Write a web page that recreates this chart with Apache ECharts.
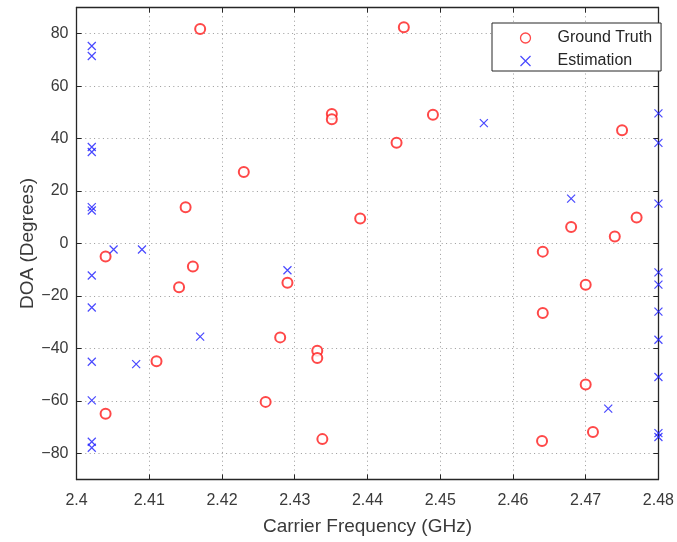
<!DOCTYPE html>
<html>
<head>
<meta charset="utf-8">
<script src="https://cdn.jsdelivr.net/npm/echarts@6/dist/echarts.min.js"></script>
<style>
html,body{margin:0;padding:0;background:#fff;}
#c{width:677px;height:542px;}
</style>
</head>
<body>
<div id="c"></div>
<script>
// Ground truth (red circles)
var gtFreq = [2.4170, 2.4450, 2.4351, 2.4351, 2.4490, 2.4440, 2.4230, 2.4750, 2.4150, 2.4390,
              2.4770, 2.4680, 2.4740, 2.4641, 2.4040, 2.4160, 2.4141, 2.4290, 2.4700, 2.4641,
              2.4280, 2.4331, 2.4331, 2.4110, 2.4700, 2.4260, 2.4040, 2.4710, 2.4338, 2.4640];
var gtDoa  = [81.8, 82.5, 49.4, 47.4, 49.1, 38.4, 27.3, 43.2, 13.8, 9.5,
              9.9, 6.3, 2.7, -3.1, -5.0, -8.8, -16.7, -15.0, -15.7, -26.5,
              -35.8, -40.9, -43.7, -44.9, -53.8, -60.4, -64.9, -71.9, -74.6, -75.3];
// Estimation (blue crosses)
var estFreq = [2.4021, 2.4021, 2.4021, 2.4021, 2.4021, 2.4021, 2.4021, 2.4021, 2.4021, 2.4021,
               2.4021, 2.4021, 2.4051, 2.4090, 2.4082, 2.4170, 2.4290, 2.4560, 2.4680, 2.4731,
               2.4800, 2.4800, 2.4800, 2.4800, 2.4800, 2.4800, 2.4800, 2.4800, 2.4800, 2.4800];
var estDoa  = [75.3, 71.5, 36.8, 34.9, 13.9, 12.6, -12.2, -24.4, -45.1, -59.8,
               -75.6, -77.9, -2.3, -2.3, -46.0, -35.5, -10.2, 45.9, 17.1, -63.0,
               49.6, 38.4, 15.2, -11.0, -15.7, -26.0, -36.7, -50.9, -72.3, -73.8];
// Ticks
var xTicks = [2.40, 2.41, 2.42, 2.43, 2.44, 2.45, 2.46, 2.47, 2.48];
var yTicks = [-80, -60, -40, -20, 0, 20, 40, 60, 80];
var seriesNames = ['Ground Truth', 'Estimation'];
var xTitle = 'Carrier Frequency (GHz)';
var yTitle = 'DOA (Degrees)';

function zip(a, b) { return a.map(function (v, i) { return [v, b[i]]; }); }

var FONT = 'Liberation Sans, Arial, Helvetica, sans-serif';
var AX = '#262626';
var LBL = '#3a3a3a';
var RED = '#ff1a1a';
var BLUE = '#1a1aff';
var crossPath = 'path://M0,0L10,10M10,0L0,10';

var gridLine = { show: true, lineStyle: { color: '#9a9a9a', width: 1, type: [1, 3.4] } };
var axLine = { show: true, onZero: false, lineStyle: { color: AX, width: 1.3 } };

var chart = echarts.init(document.getElementById('c'), null, { renderer: 'canvas' });
chart.setOption({
  animation: false,
  backgroundColor: '#ffffff',
  grid: { left: 76.5, top: 7.5, right: 15.5, bottom: 62.5, containLabel: false },
  legend: {
    left: 492, top: 23,
    orient: 'vertical',
    itemWidth: 54, itemHeight: 10, itemGap: 7,
    padding: [7, 9, 2, 26],
    borderColor: AX, borderWidth: 1, backgroundColor: '#ffffff',
    textStyle: { fontFamily: FONT, fontSize: 16, color: '#262626' },
    data: [
      { name: seriesNames[0], icon: 'circle',
        itemStyle: { color: '#ffffff', borderColor: RED, borderWidth: 1.3 } },
      { name: seriesNames[1], icon: crossPath,
        itemStyle: { color: 'none', borderColor: BLUE, borderWidth: 1.2 } }
    ]
  },
  xAxis: [{
    type: 'value', min: xTicks[0], max: xTicks[xTicks.length - 1], interval: 0.01,
    position: 'bottom',
    name: xTitle, nameLocation: 'middle', nameGap: 38, nameMoveOverlap: false,
    nameTextStyle: { fontFamily: FONT, fontSize: 19, color: LBL },
    axisLine: axLine,
    axisTick: { show: true, inside: true, length: 5, lineStyle: { color: AX } },
    axisLabel: { fontFamily: FONT, fontSize: 16, color: LBL, margin: 13,
      formatter: function (v) { return String(+v.toFixed(2)); } },
    splitLine: gridLine
  }, {
    type: 'value', min: xTicks[0], max: xTicks[xTicks.length - 1], interval: 0.01,
    position: 'top',
    axisLine: axLine,
    axisTick: { show: true, inside: true, length: 5, lineStyle: { color: AX } },
    axisLabel: { show: false },
    splitLine: { show: false }
  }],
  yAxis: [{
    type: 'value', min: -90, max: 90,
    position: 'left',
    name: yTitle, nameLocation: 'middle', nameGap: 39, nameMoveOverlap: false,
    nameTextStyle: { fontFamily: FONT, fontSize: 19, color: LBL },
    axisLine: axLine,
    axisTick: { show: true, inside: true, length: 5, lineStyle: { color: AX }, customValues: yTicks },
    axisLabel: { fontFamily: FONT, fontSize: 16, color: LBL, margin: 8, customValues: yTicks,
      formatter: function (v) { return v < 0 ? '\u2212' + (-v) : String(v); } },
    splitLine: gridLine
  }, {
    type: 'value', min: -90, max: 90,
    position: 'right',
    axisLine: axLine,
    axisTick: { show: true, inside: true, length: 5, lineStyle: { color: AX }, customValues: yTicks },
    axisLabel: { show: false },
    splitLine: { show: false }
  }],
  series: [{
    name: seriesNames[0], type: 'scatter', xAxisIndex: 0, yAxisIndex: 0, clip: false,
    symbol: 'emptyCircle', symbolSize: 10,
    itemStyle: { color: RED, borderColor: RED, borderWidth: 1.3 },
    data: zip(gtFreq, gtDoa)
  }, {
    name: seriesNames[1], type: 'scatter', xAxisIndex: 0, yAxisIndex: 0, clip: false,
    symbol: crossPath, symbolSize: 8,
    itemStyle: { color: 'none', borderColor: BLUE, borderWidth: 1.2 },
    data: zip(estFreq, estDoa)
  }]
});
</script>
</body>
</html>
